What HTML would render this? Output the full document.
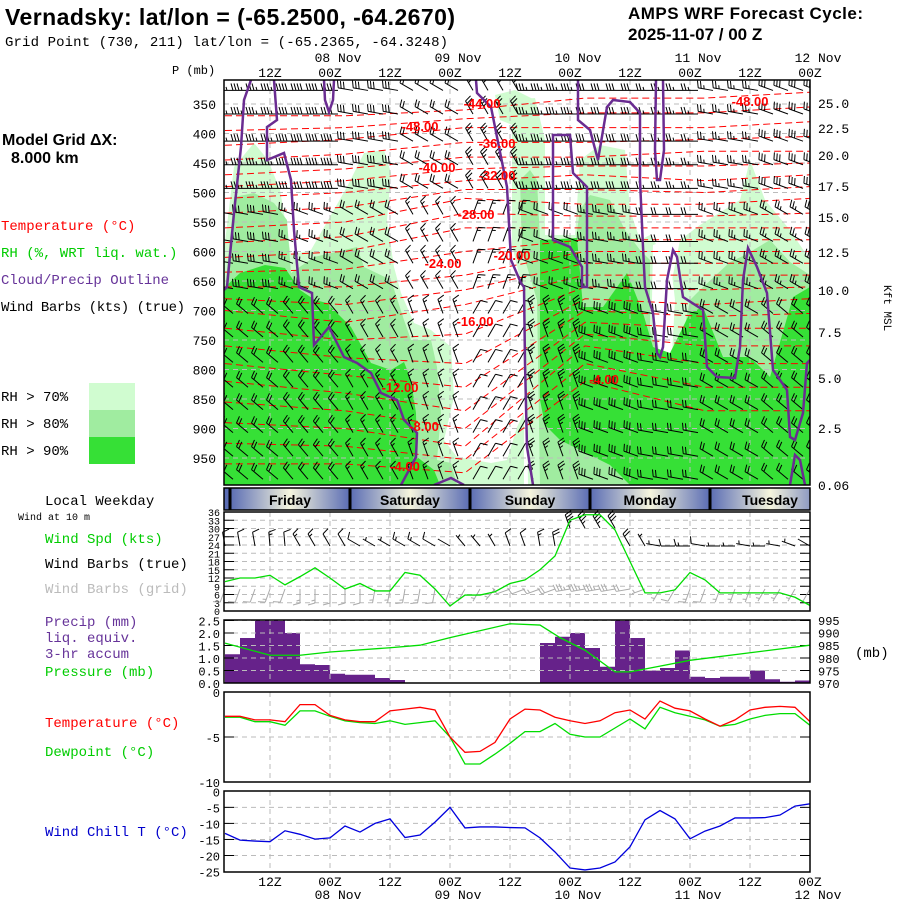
<!DOCTYPE html>
<html><head><meta charset="utf-8">
<style>
html,body{margin:0;padding:0;background:#fff;}
svg{display:block;font-family:"Liberation Mono",monospace;}
.b{font-family:"Liberation Sans",sans-serif;font-weight:bold;}
</style></head>
<body>
<svg id="chart" width="900" height="900" viewBox="0 0 900 900" xmlns="http://www.w3.org/2000/svg">
<defs>
<linearGradient id="dayGrad" x1="0" x2="1" y1="0" y2="0">
<stop offset="0" stop-color="#5a6cb4"/><stop offset="0.5" stop-color="#f5f5dd"/><stop offset="1" stop-color="#5a6cb4"/>
</linearGradient>
<clipPath id="topClip"><rect x="224" y="80" width="586" height="405"/></clipPath>
<clipPath id="dayClip"><rect x="224" y="488" width="586" height="22"/></clipPath>
</defs>
<text class="b" x="5" y="25" font-size="23" textLength="450">Vernadsky:  lat/lon = (-65.2500, -64.2670)</text>
<text x="5" y="46" font-size="14" textLength="443">Grid Point (730, 211) lat/lon = (-65.2365, -64.3248)</text>
<text class="b" x="628" y="19" font-size="17" textLength="235">AMPS WRF Forecast Cycle:</text>
<text class="b" x="628" y="40" font-size="17">2025-11-07 / 00  Z</text>
<text x="172" y="74" font-size="12">P (mb)</text>
<text class="b" x="2" y="145" font-size="16">Model Grid ΔX:</text>
<text class="b" x="11" y="163" font-size="16">8.000 km</text>
<text x="1" y="230" font-size="14" fill="#ff0000">Temperature (°C)</text>
<text x="1" y="257" font-size="14" fill="#00cc00">RH (%, WRT liq. wat.)</text>
<text x="1" y="284" font-size="14" fill="#663399">Cloud/Precip Outline</text>
<text x="1" y="311" font-size="14" textLength="184">Wind Barbs (kts) (true)</text>
<text x="1" y="401" font-size="14">RH &gt; 70%</text>
<text x="1" y="428" font-size="14">RH &gt; 80%</text>
<text x="1" y="455" font-size="14">RH &gt; 90%</text>
<rect x="89" y="383" width="46" height="27" fill="#d0fcd0"/>
<rect x="89" y="410" width="46" height="27" fill="#a0eca0"/>
<rect x="89" y="437" width="46" height="27" fill="#36e036"/>
<text x="45" y="505" font-size="14">Local Weekday</text>
<text x="18" y="520" font-size="10">Wind at 10 m</text>
<text x="45" y="543" font-size="14" fill="#00cc00">Wind Spd (kts)</text>
<text x="45" y="568" font-size="14">Wind Barbs (true)</text>
<text x="45" y="593" font-size="14" fill="#bbbbbb">Wind Barbs (grid)</text>
<text x="45" y="626" font-size="14" fill="#663399">Precip (mm)</text>
<text x="45" y="642" font-size="14" fill="#663399">liq. equiv.</text>
<text x="45" y="658" font-size="14" fill="#663399">3-hr accum</text>
<text x="45" y="676" font-size="14" fill="#00cc00">Pressure (mb)</text>
<text x="45" y="727" font-size="14" fill="#ff0000">Temperature (°C)</text>
<text x="45" y="756" font-size="14" fill="#00cc00">Dewpoint (°C)</text>
<text x="45" y="836" font-size="14" fill="#0000cc">Wind Chill T (°C)</text>
<text x="855" y="657" font-size="14">(mb)</text>
<text x="0" y="0" font-size="11" transform="translate(884,285) rotate(90)">Kft MSL</text>
<g id="layers"></g>
</svg>
<script>
// ---------- data ----------
const hours = [3,6,9,12,15,18,21,24,27,30,33,36,39,42,45,48,51,54,57,60,63,66,69,72,75,78,81,84,87,90,93,96,99,102,105,108,111,114,117,120];
const windSpd = [10.7,12,12,13,9.5,12.5,15.7,12,8,10,7.3,7.3,14,13,8,1.8,5.8,5.8,7,10,11.3,15,20,33,35,35,29.5,18,6.6,6.6,7.7,14,11.3,6.6,6.6,6.6,6.6,6.6,5,2];
const windDir10 = [350,350,350,355,355,330,330,330,330,300,300,300,300,300,300,300,320,320,330,340,340,350,350,340,330,330,330,330,330,280,270,270,280,270,270,280,270,280,290,300];
const gridDir10 = [200,200,200,200,200,180,180,180,180,180,190,190,190,190,190,200,210,210,220,250,250,250,250,260,260,260,260,260,250,210,210,200,200,200,200,200,210,210,210,210];
const precip = [1.15,1.8,2.5,2.5,2.0,0.75,0.72,0.37,0.33,0.33,0.2,0.12,0,0,0,0,0,0,0,0,0,1.6,1.85,2.0,1.4,0.65,2.5,1.8,0.5,0.6,1.3,0.25,0.2,0.25,0.25,0.5,0.15,0.05,0.1];
const pressHours = [3,12,18,24,36,42,48,60,66,70,75,81,84,90,96,108,120];
const pressVals = [985.8,981,981,982.3,984,985,988,993.5,993,988,983,974.4,974.4,976.7,979,982,985];
const temp2m = [-2.7,-2.7,-3.1,-3.1,-3.3,-1.4,-1.4,-2.6,-3.1,-3.3,-3.3,-2.1,-1.9,-1.7,-2,-5,-6.7,-6.6,-5.6,-3,-1.9,-2,-2.8,-3.2,-3.5,-3.2,-2.3,-2,-3,-1,-1.8,-2.1,-3,-3.8,-3.1,-2,-1.7,-1.6,-1.7,-3.3];
const dewpt = [-2.8,-2.8,-3.3,-3.3,-3.7,-2.1,-2.1,-2.7,-3.2,-3.4,-3.5,-3.2,-3.6,-3.4,-3.2,-5,-8,-8,-6.9,-5.7,-4.4,-4.4,-3.5,-4.7,-5,-5,-4,-3,-4.1,-1.7,-2.3,-2.7,-3.1,-3.8,-3.6,-3,-2.6,-2.4,-2.4,-3.7];
const windChill = [-13.1,-15.2,-15.5,-15.7,-12.3,-13.4,-14.9,-14.5,-10.8,-12.7,-10,-8.6,-14.4,-13.6,-9.6,-5,-11.4,-11.1,-11.1,-11.3,-11.4,-14.5,-18.9,-23.9,-24.5,-23.9,-22,-17.3,-8.9,-6,-8.6,-14.8,-12.4,-10.8,-8.3,-8.3,-8.2,-7.4,-4.6,-3.9];
const contourLevels = [-48,-44,-40,-36,-32,-28,-24,-20,-16,-12,-8,-4];
const contourHours = [3,27,51,75,99,120];
const contourP = [
 [370,370,360,340,340,330],[420,410,390,390,390,380],[470,460,440,440,430,430],[510,500,480,470,480,470],
 [560,550,510,520,520,510],[610,600,560,560,560,560],[660,660,640,600,600,600],[700,720,690,640,640,640],
 [760,780,790,680,690,680],[820,840,870,720,730,730],[890,900,930,760,790,790],[960,960,975,820,870,870]];
const barbLevels = [327,367,413,453,493,537,583,620,663,705,745,788,830,868,907,947,986];
const blockDirUpper = [270,270,280,300,330,270,270,270,280,290];
const blockSpdUpper = [35,40,30,20,25,35,30,25,25,30];
const blockDirMid = [280,290,300,330,20,290,280,270,290,300];
const blockSpdMid = [30,25,20,15,15,20,25,20,25,25];
const blockDirLow = [310,320,330,340,30,340,290,280,300,310];
const blockSpdLow = [20,20,15,15,10,25,30,20,20,20];
const pressTicks = [350,400,450,500,550,600,650,700,750,800,850,900,950];
const heightTicks = ["25.0","22.5","20.0","17.5","15.0","12.5","10.0","7.5","5.0","2.5","0.06"];
const heightTickY = [103,128,155,186,217,252,290,332,378,428,485];
const timeTickHours = [12,24,36,48,60,72,84,96,108,120];
const timeTickLabels = ["12Z","00Z","12Z","00Z","12Z","00Z","12Z","00Z","12Z","00Z"];
const dateLabels = ["08 Nov","09 Nov","10 Nov","11 Nov","12 Nov"];
const dateHours = [24,48,72,96,120];
const dayNames = ["Friday","Saturday","Sunday","Monday","Tuesday"];
const dayStartX = [230,350,470,590,710];
const windTicks = [36,33,30,27,24,21,18,15,12,9,6,3,0];
const precipTicks = [2.5,2.0,1.5,1.0,0.5,0.0];
const presTickVals = [995,990,985,980,975,970];
const tempTicks = [0,-5,-10];
const chillTicks = [0,-5,-10,-15,-20,-25];

(function(){
const L=224, R=810;
const xT = h => 225 + 5*(h-3);
const yP = p => 104 + (p-350)*0.59;
const yW = k => 611 - k*2.75;
const yPr = mm => 683 - mm*25;
const yPs = mb => 683 - (mb-970)*2.52;
const yT = c => 692 - c*9;
const yC = c => 791.3 - c*3.21;

const NS="http://www.w3.org/2000/svg";
const root=document.getElementById('layers');
function mk(tag, attrs, parent){const e=document.createElementNS(NS,tag);for(const k in attrs)e.setAttribute(k,attrs[k]);(parent||root).appendChild(e);return e;}
function txt(x,y,s,size,anchor,fill,parent){const t=mk('text',{x:x,y:y,'font-size':size,'text-anchor':anchor||'start',fill:fill||'#000'},parent);t.textContent=s;return t;}
function grp(name){const g=mk('g',{});return g;}

const topG=grp('upper-air-panel');
topG.setAttribute('clip-path','url(#topClip)');
function poly(pts,fill,name,parent){const p=mk('polygon',{points:pts,fill:fill},parent);return p;}
poly("224,250 234,167 254,143 268,160 280,190 291,255 311,250 347,187 364,153 384,150 391,173 387,220 394,267 401,293 414,323 431,330 451,347 454,397 444,440 457,457 491,463 507,460 517,427 524,413 524,485 224,485","#d0fcd0","rh70-region-left",topG);
poly("512,100 535,98 545,140 545,235 575,235 580,160 600,145 625,150 630,210 640,240 650,235 660,250 665,290 672,280 680,240 700,225 740,200 750,160 765,200 790,230 810,260 810,485 528,485 525,300 512,245","#d0fcd0","rh70-region-right",topG);
poly("495,95 515,90 535,100 540,120 520,128 500,120","#d0fcd0","rh70-region-top",topG);
poly("224,300 234,197 254,193 274,203 287,220 291,273 314,257 357,247 364,267 391,280 404,320 411,340 431,340 437,367 441,413 437,460 451,463 457,485 224,485","#a0eca0","rh80-region-left",topG);
poly("520,180 530,170 537,180 540,240 575,245 580,210 590,195 610,200 625,230 640,250 650,260 650,330 660,360 680,350 690,300 700,290 730,262 745,255 770,240 790,262 810,275 810,485 540,485 537,300 522,250","#a0eca0","rh80-region-right",topG);
poly("653,245 668,240 675,300 672,355 660,358 652,300","#ffffff","dry-slot-finger",topG);
poly("224,288 240,273 265,265 285,268 300,290 315,300 327,303 351,327 371,363 391,370 404,362 411,380 416,413 417,457 434,470 440,485 224,485","#36e036","rh90-region-left",topG);
poly("540,240 577,238 583,307 603,307 627,273 630,280 643,313 653,347 670,353 690,313 703,307 723,357 750,357 770,377 793,297 810,287 810,485 630,485 610,465 580,450 560,440 545,425 540,400","#36e036","rh90-region-right",topG);
pressTicks.forEach(p=>{const l=mk('line',{x1:L,x2:R,y1:yP(p),y2:yP(p),stroke:'#bbb','stroke-dasharray':'5,4','stroke-width':1},topG);});
timeTickHours.forEach(h=>{const l=mk('line',{x1:xT(h),x2:xT(h),y1:80,y2:485,stroke:'#bbb','stroke-dasharray':'5,4'},topG);});
contourLevels.forEach((lv,i)=>{
  const pts=contourHours.map((h,j)=>xT(h)+','+yP(contourP[i][j])).join(' ');
  const pl=mk('polyline',{points:pts,fill:'none',stroke:'#ff0000','stroke-width':1,'stroke-dasharray':'7,4'},topG);
  
  
  if(i<contourLevels.length-1){
    const pts2=contourHours.map((h,j)=>xT(h)+','+yP((contourP[i][j]+contourP[i+1][j])/2)).join(' ');
    const p2=mk('polyline',{points:pts2,fill:'none',stroke:'#ff0000','stroke-width':1,'stroke-dasharray':'7,4'},topG);
    
    
  }
});
function barb(x,y,dir,spd,len,color,parent){
  const r=dir*Math.PI/180, dx=Math.sin(r), dy=-Math.cos(r);
  const ex=x+dx*len, ey=y+dy*len;
  let d=`M${x},${y}L${ex},${ey}`;
  const fx=-dy, fy=dx;
  let s=Math.round(spd/5)*5, pos=0;
  while(s>=50){const bx=ex-dx*pos, by=ey-dy*pos;d+=`M${bx},${by}L${bx+fx*7},${by+fy*7}L${bx-dx*4},${by-dy*4}`;pos+=5;s-=50;}
  while(s>=10){const bx=ex-dx*pos, by=ey-dy*pos;d+=`M${bx},${by}L${bx+fx*7+dx*2},${by+fy*7+dy*2}`;pos+=3;s-=10;}
  if(s>=5){if(pos===0)pos=3;const bx=ex-dx*pos, by=ey-dy*pos;d+=`M${bx},${by}L${bx+fx*3.5+dx},${by+fy*3.5+dy}`;}
  return mk('path',{d:d,stroke:color,fill:'none','stroke-width':1},parent);
}
const barbG=mk('g',{},topG);


barbLevels.forEach(p=>{
  hours.forEach(h=>{
    const b=Math.min(9,Math.floor((h-3)/12));
    let dir,spd;
    if(p<500){dir=blockDirUpper[b];spd=blockSpdUpper[b];}
    else if(p<700){dir=blockDirMid[b];spd=blockSpdMid[b];}
    else {dir=blockDirLow[b];spd=blockSpdLow[b];}
    const el=barb(xT(h)+8,yP(p),dir,spd,15,'#000',barbG);
    
    
  });
});
const outlines=["M251,80 L244,100 L241,147 L234,213 L227,287 L224,290",
"M274,80 L277,120 L267,127 L267,160 L284,153 L291,180 L294,230 L299,287 L312,293 L314,345 L329,327 L344,357 L357,363 L371,373 L381,393 L397,400 L404,420 L417,433 L416,457 L401,485",
"M324,80 L325,100 L329,112 L333,100 L334,80",
"M434,485 L451,478 L464,485",
"M476,80 L477,93 L491,107 L507,187 L511,260 L521,283 L524,287 L525,363 L527,447 L533,485",
"M578,80 L578,120 L590,130 L598,160 L607,107 L613,100 L630,102 L640,113 L640,180 L643,247 L645,287 L653,313 L657,353 L660,357 L663,347 L667,280 L673,250 L677,257 L683,297 L703,310 L707,367 L717,377 L735,378 L740,347 L743,280 L748,248 L757,267 L767,293 L773,370 L787,390 L790,437 L795,440 L803,413 L807,363 L810,360",
"M553,135 L570,135 L573,173 L587,187 L587,287 L582,287 L582,267 L570,247 L553,240 Z",
"M656,80 L655,150 L657,180 L660,180 L664,150 L663,80",
"M790,485 L795,455 L800,460 L805,485"];
outlines.forEach(d=>{const p=mk('path',{d:d,fill:'none',stroke:'#6a2c91','stroke-width':2.5},topG);});
const cl=[["-48.00",420,131],["-44.00",482,108],["-40.00",437,172],["-36.00",497,148],["-32.00",497,180],["-28.00",476,219],["-24.00",443,268],["-20.00",512,260],["-16.00",475,326],["-12.00",400,392],["-8.00",424,431],["-4.00",405,471],["-4.00",604,384],["-48.00",750,106]];
cl.forEach(c=>{const t=txt(c[1],c[2],c[0],13,'middle','#ff0000',topG);t.setAttribute('class','b');});
const frame=mk('rect',{x:L,y:80,width:R-L,height:405,fill:'none',stroke:'#000','stroke-width':1.5});


pressTicks.forEach(p=>{const t=txt(216,yP(p)+5,String(p),13,'end');});
heightTicks.forEach((s,i)=>{const t=txt(818,heightTickY[i]+5,s,13,'start');});
timeTickHours.forEach((h,i)=>{
  const t=txt(xT(h),77,timeTickLabels[i],13,'middle');
  const b=txt(xT(h),886,timeTickLabels[i],13,'middle');
});
dateHours.forEach((h,i)=>{
  const t=txt(xT(h)+8,62,dateLabels[i],13,'middle');
  const b=txt(xT(h)+8,899,dateLabels[i],13,'middle');
});

const day=grp('weekday-bar');
day.setAttribute('clip-path','url(#dayClip)');
mk('rect',{x:224,y:488,width:6,height:22,fill:'#5a6cb4'},day);
dayNames.forEach((n,i)=>{
  const r=mk('rect',{x:dayStartX[i],y:488,width:120,height:22,fill:'url(#dayGrad)'},day);
  
  
  const t=txt(dayStartX[i]+60,505,n,14,'middle','#000',day);t.setAttribute('class','b');
  mk('line',{x1:dayStartX[i],x2:dayStartX[i],y1:488,y2:510,stroke:'#000','stroke-width':3},day);
});
mk('rect',{x:224,y:488,width:586,height:22,fill:'none',stroke:'#000','stroke-width':1.5});

function vgrid(y1,y2,g){timeTickHours.slice(0,9).forEach(h=>{mk('line',{x1:xT(h),x2:xT(h),y1:y1,y2:y2,stroke:'#bbb','stroke-dasharray':'5,4'},g);});}
function hgrid(y,g){mk('line',{x1:L,x2:R,y1:y,y2:y,stroke:'#bbb','stroke-dasharray':'5,4'},g);}
function tick(y,g){mk('line',{x1:L,x2:L+10,y1:y,y2:y,stroke:'#000'},g);mk('line',{x1:R-10,x2:R,y1:y,y2:y,stroke:'#000'},g);}
function line(vals,xs,yf,color,name,g){const pts=vals.map((v,i)=>xs[i]+','+yf(v)).join(' ');const p=mk('polyline',{points:pts,fill:'none',stroke:color,'stroke-width':1.3},g);return p;}

const wp=grp('wind-panel');
windTicks.forEach(k=>{hgrid(yW(k),wp);tick(yW(k),wp);txt(220,yW(k)+4,String(k),10,'end','#000',wp);});
vgrid(512,611,wp);
hours.forEach((h,i)=>{
  const g1=barb(xT(h),windSpd[i]>25?528:546,windDir10[i],windSpd[i],14,'#000',wp);
  
  
  const g2=barb(xT(h),yW(8),gridDir10[i],windSpd[i],14,'#aaaaaa',wp);
  
  
});
line(windSpd,hours.map(xT),yW,'#00dd00','wind-speed-line',wp);
mk('rect',{x:L,y:512,width:R-L,height:99,fill:'none',stroke:'#000','stroke-width':1.5},wp);

const pp=grp('precip-panel');
precip.forEach((v,i)=>{
  if(v<=0)return;
  const b=mk('rect',{x:xT(hours[i]),y:yPr(v),width:15,height:683-yPr(v),fill:'#66228a'},pp);
  
  
});
precipTicks.forEach((v,i)=>{hgrid(yPr(v),pp);tick(yPr(v),pp);txt(220,yPr(v)+5,v.toFixed(1),12,'end','#000',pp);txt(818,yPs(presTickVals[i])+5,String(presTickVals[i]),12,'start','#000',pp);});
vgrid(620,683,pp);
line(pressVals,pressHours.map(xT),yPs,'#00dd00','pressure-line',pp);
mk('rect',{x:L,y:620,width:R-L,height:63,fill:'none',stroke:'#000','stroke-width':1.5},pp);

const tp=grp('temperature-panel');
hgrid(yT(-5),tp);tick(yT(-5),tp);
vgrid(692,782,tp);
tempTicks.forEach(v=>txt(220,yT(v)+5,String(v),12,'end','#000',tp));
line(dewpt,hours.map(xT),yT,'#00dd00','dewpoint-line',tp);
line(temp2m,hours.map(xT),yT,'#ff0000','temperature-line',tp);
mk('rect',{x:L,y:692,width:R-L,height:90,fill:'none',stroke:'#000','stroke-width':1.5},tp);

const cp=grp('wind-chill-panel');
chillTicks.forEach(v=>{if(v!==0&&v!==-25){hgrid(yC(v),cp);tick(yC(v),cp);}txt(220,yC(v)+5,String(v),12,'end','#000',cp);});
vgrid(791,872,cp);
line(windChill,hours.map(xT),yC,'#0000dd','wind-chill-line',cp);
mk('rect',{x:L,y:791,width:R-L,height:81,fill:'none',stroke:'#000','stroke-width':1.5},cp);
})();
</script>
</body></html>
